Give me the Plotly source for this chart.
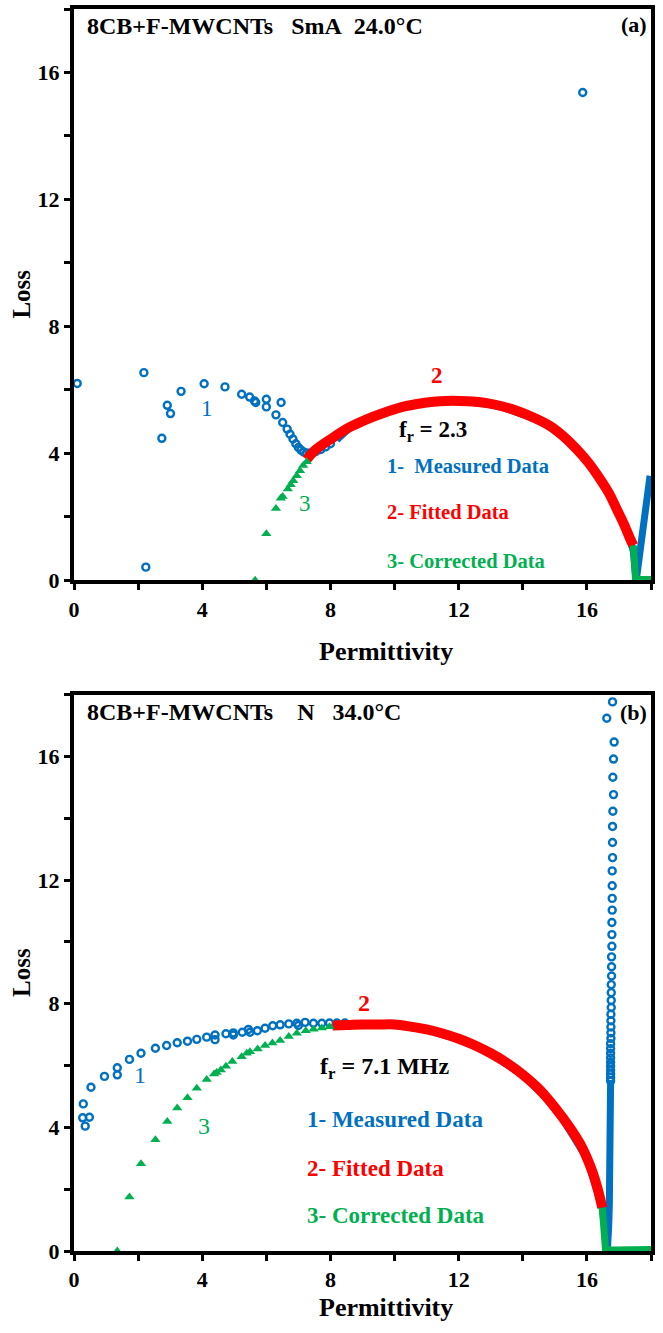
import plotly.graph_objects as go

# ---------------- Panel (a): 8CB+F-MWCNTs SmA 24.0 C ----------------
measA_x = [0.10, 2.18, 2.24, 2.74, 2.91, 3.01, 3.34, 4.06, 4.71, 5.23, 5.48, 5.63, 5.67,
           6.00, 6.00, 6.46, 6.30, 6.51, 6.65, 6.74, 6.83, 6.92, 7.00, 7.08, 7.16, 7.25,
           7.35, 7.45, 7.55, 7.70, 7.85, 8.00, 15.87]
measA_y = [6.20, 6.54, 0.41, 4.47, 5.51, 5.25, 5.95, 6.19, 6.09, 5.86, 5.77, 5.65, 5.60,
           5.70, 5.46, 5.60, 5.21, 4.97, 4.76, 4.60, 4.45, 4.30, 4.18, 4.10, 4.04, 4.01,
           4.00, 4.02, 4.06, 4.12, 4.20, 4.30, 15.37]
measA_dense_x = [8.20, 8.60, 9.13, 9.65, 10.17, 10.70, 11.21, 11.60, 12.04, 12.45, 12.88,
                 13.35, 13.81, 14.35, 14.85, 15.25, 15.68, 16.05, 16.41, 16.70, 16.93,
                 17.15, 17.35, 17.45, 17.52, 17.56, 17.65, 17.75, 17.85, 17.97]
measA_dense_y = [4.42, 4.80, 5.10, 5.31, 5.48, 5.58, 5.63, 5.65, 5.64, 5.61, 5.55, 5.45,
                 5.31, 5.09, 4.83, 4.52, 4.10, 3.67, 3.16, 2.69, 2.21, 1.75, 1.27, 0.90,
                 0.10, 0.15, 0.85, 1.60, 2.40, 3.29]
fitA_x = [7.26, 7.50, 8.09, 8.60, 9.13, 9.65, 10.17, 10.70, 11.21, 11.60, 12.04, 12.45,
          12.88, 13.35, 13.81, 14.35, 14.85, 15.25, 15.68, 16.05, 16.41, 16.70, 16.93,
          17.15, 17.35, 17.45]
fitA_y = [3.80, 4.08, 4.50, 4.82, 5.07, 5.27, 5.44, 5.55, 5.62, 5.65, 5.65, 5.63, 5.58,
          5.48, 5.34, 5.12, 4.86, 4.55, 4.13, 3.70, 3.19, 2.72, 2.24, 1.78, 1.30, 1.09]
corrA_x = [5.65, 6.00, 6.30, 6.45, 6.51, 6.67, 6.76, 6.84, 6.95, 7.05, 7.15, 7.26]
corrA_y = [0.00, 1.46, 2.26, 2.58, 2.64, 2.87, 3.01, 3.13, 3.29, 3.45, 3.61, 3.73]
corrA_tail_x = [17.45, 17.48, 17.50, 17.52, 17.70, 17.85, 18.00]
corrA_tail_y = [1.09, 0.60, 0.20, 0.02, 0.02, 0.03, 0.02]

# ---------------- Panel (b): 8CB+F-MWCNTs N 34.0 C ----------------
measB_x = [0.27, 0.29, 0.35, 0.48, 0.53, 0.95, 1.35, 1.35, 1.73, 2.09, 2.54, 2.89, 3.22,
           3.54, 3.83, 4.14, 4.40, 4.40, 4.74, 4.97, 4.97, 5.25, 5.44, 5.49, 5.72, 5.96,
           6.20, 6.43, 6.70, 6.95, 7.00, 7.21, 7.47, 7.73, 7.97, 8.20, 8.45]
measB_y = [4.31, 4.76, 4.04, 4.33, 5.30, 5.65, 5.93, 5.70, 6.20, 6.40, 6.56, 6.65, 6.74,
           6.79, 6.85, 6.92, 6.99, 6.84, 7.03, 7.06, 6.99, 7.08, 7.17, 7.08, 7.13, 7.21,
           7.29, 7.32, 7.35, 7.37, 7.30, 7.40, 7.37, 7.37, 7.38, 7.38, 7.38]
measB_vert_x = [16.80, 16.62, 16.85, 16.83, 16.81, 16.83, 16.81, 16.80, 16.80, 16.80,
                16.79, 16.79, 16.79, 16.79, 16.78, 16.78, 16.78, 16.77, 16.77, 16.77,
                16.76, 16.76, 16.76, 16.76, 16.75, 16.75, 16.75, 16.75, 16.75, 16.74,
                16.74, 16.74, 16.74, 16.74, 16.74, 16.74, 16.74, 16.74, 16.74]
measB_vert_y = [17.77, 17.24, 16.47, 15.92, 15.33, 14.77, 14.23, 13.74, 13.22, 12.73,
                12.30, 11.82, 11.41, 11.03, 10.63, 10.24, 9.86, 9.52, 9.20, 8.90, 8.62,
                8.36, 8.11, 7.88, 7.66, 7.45, 7.25, 7.06, 6.88, 6.71, 6.55, 6.40, 6.25,
                6.11, 5.98, 5.85, 5.73, 5.61, 5.50]
measB_dense_x = [10.0, 11.0, 12.0, 13.0, 14.0, 15.0, 16.0, 16.48, 16.64, 16.66, 16.68,
                 16.70, 16.71, 16.72, 16.73, 16.74]
measB_dense_y = [7.31, 7.15, 6.85, 6.38, 5.69, 4.67, 3.00, 1.38, 0.05, 0.30, 0.80, 1.50,
                 2.50, 3.50, 4.50, 5.50]
fitB_x = [8.07, 8.50, 9.00, 9.50, 10.00, 10.50, 11.00, 11.50, 12.00, 12.50, 13.00, 13.50,
          14.00, 14.50, 15.00, 15.50, 15.80, 16.00, 16.20, 16.35, 16.48]
fitB_y = [7.30, 7.31, 7.33, 7.33, 7.33, 7.26, 7.17, 7.04, 6.87, 6.66, 6.40, 6.09, 5.71,
          5.25, 4.65, 3.95, 3.45, 3.02, 2.48, 1.96, 1.40]
corrB_x = [1.35, 1.73, 2.09, 2.54, 2.91, 3.22, 3.54, 3.83, 4.14, 4.37, 4.45, 4.58, 4.74,
           4.94, 5.23, 5.39, 5.49, 5.73, 5.96, 6.19, 6.43, 6.70, 6.95, 7.23, 7.47, 7.73, 7.97]
corrB_y = [0.00, 1.75, 2.82, 3.60, 4.19, 4.63, 4.96, 5.27, 5.55, 5.73, 5.78, 5.86, 5.98,
           6.13, 6.29, 6.40, 6.45, 6.54, 6.65, 6.73, 6.81, 6.94, 7.05, 7.13, 7.18, 7.22, 7.26]
corrB_tail_x = [16.48, 16.52, 16.55, 16.58, 16.80, 17.00, 17.20, 17.40, 17.60, 17.80, 18.00]
corrB_tail_y = [1.40, 0.90, 0.45, 0.05, 0.03, 0.04, 0.02, 0.05, 0.03, 0.04, 0.05]

tick_vals = [0, 4, 8, 12, 16]
tick_text = ["0", "4", "8", "12", "16"]

BLUE = "#0070C0"
RED = "#FF0000"
GREEN = "#00B050"
FONT = "Liberation Serif, Times New Roman, serif"

fig = go.Figure()


def add_panel(xa, ya, meas_x, meas_y, dense_x, dense_y, fit_x, fit_y, corr_x, corr_y,
              tail_x, tail_y, extra=None):
    fig.add_trace(go.Scatter(x=dense_x, y=dense_y, mode="lines", xaxis=xa, yaxis=ya,
                             line=dict(color=BLUE, width=7), cliponaxis=False))
    fig.add_trace(go.Scatter(x=meas_x, y=meas_y, mode="markers", xaxis=xa, yaxis=ya,
                             marker=dict(symbol="circle-open", size=7, color=BLUE,
                                         line=dict(width=2.4, color=BLUE)),
                             cliponaxis=False))
    if extra is not None:
        fig.add_trace(go.Scatter(x=extra[0], y=extra[1], mode="markers", xaxis=xa, yaxis=ya,
                                 marker=dict(symbol="circle-open", size=7, color=BLUE,
                                             line=dict(width=2.4, color=BLUE)),
                                 cliponaxis=False))
    fig.add_trace(go.Scatter(x=fit_x, y=fit_y, mode="lines", xaxis=xa, yaxis=ya,
                             line=dict(color=RED, width=10, shape="spline", smoothing=1),
                             cliponaxis=False))
    fig.add_trace(go.Scatter(x=tail_x, y=tail_y, mode="lines", xaxis=xa, yaxis=ya,
                             line=dict(color=GREEN, width=7), cliponaxis=False))
    fig.add_trace(go.Scatter(x=corr_x, y=corr_y, mode="markers", xaxis=xa, yaxis=ya,
                             marker=dict(symbol="triangle-up", size=9, color=GREEN),
                             cliponaxis=False))


add_panel("x", "y", measA_x, measA_y, measA_dense_x, measA_dense_y, fitA_x, fitA_y,
          corrA_x, corrA_y, corrA_tail_x, corrA_tail_y)
add_panel("x2", "y2", measB_x, measB_y, measB_dense_x, measB_dense_y, fitB_x, fitB_y,
          corrB_x, corrB_y, corrB_tail_x, corrB_tail_y, extra=(measB_vert_x, measB_vert_y))

axis_common = dict(range=[0, 18], showline=True, linecolor="black", linewidth=4,
                   mirror=True, ticks="outside", ticklen=6, tickwidth=3, tickcolor="black",
                   tickvals=tick_vals, ticktext=tick_text, showgrid=False, zeroline=False,
                   tickfont=dict(family=FONT, size=22, color="black", weight="bold"),
                   minor=dict(ticks="outside", ticklen=6, tickwidth=3, tickcolor="black",
                              dtick=2, tick0=0, showgrid=False))

top_dom = [(1251 - 578) / 1246, 1.0]
bot_dom = [0.0, (1251 - 693) / 1246]

fig.update_layout(
    width=663, height=1333,
    margin=dict(l=74, r=12, t=5, b=82),
    paper_bgcolor="white", plot_bgcolor="white",
    showlegend=False,
    xaxis=dict(domain=[0, 1], anchor="y", **axis_common),
    yaxis=dict(domain=top_dom, anchor="x", **axis_common),
    xaxis2=dict(domain=[0, 1], anchor="y2", **axis_common),
    yaxis2=dict(domain=bot_dom, anchor="x2", **axis_common),
)


def ann(text, x, y, color, size, xref="x", yref="y", xanchor="left", bold=True, **kw):
    t = "<b>" + text + "</b>" if bold else text
    fig.add_annotation(text=t, x=x, y=y, xref=xref, yref=yref, xanchor=xanchor,
                       yanchor="middle", showarrow=False,
                       font=dict(family=FONT, size=size, color=color), **kw)


NB = "\u00a0"
# Panel (a) texts
ann("8CB+F-MWCNTs" + NB * 3 + "SmA" + NB * 2 + "24.0°C", 0.34, 17.45, "black", 24)
ann("(a)", 17.93, 17.5, "black", 22, xanchor="right")
ann("1", 4.14, 5.42, BLUE, 23, xanchor="center", bold=False)
ann("2", 11.33, 6.45, RED, 23, xanchor="center")
ann("3", 7.21, 2.41, GREEN, 23, xanchor="center", bold=False)
ann("f<sub>r</sub> = 2.3", 10.07, 4.69, "black", 23)
ann("1-" + NB * 2 + "Measured Data", 9.70, 3.60, BLUE, 20.5)
ann("2- Fitted Data", 9.70, 2.14, RED, 20.5)
ann("3- Corrected Data", 9.70, 0.60, GREEN, 20.5)

# Panel (b) texts
ann("8CB+F-MWCNTs" + NB * 4 + "N" + NB * 3 + "34.0°C", 0.34, 17.44, "black", 24,
    xref="x2", yref="y2")
ann("(b)", 17.93, 17.44, "black", 22, xref="x2", yref="y2", xanchor="right")
ann("1", 2.06, 5.68, BLUE, 24, xref="x2", yref="y2", xanchor="center", bold=False)
ann("2", 9.05, 8.04, RED, 24, xref="x2", yref="y2", xanchor="center")
ann("3", 4.06, 4.06, GREEN, 24, xref="x2", yref="y2", xanchor="center", bold=False)
ann("f<sub>r</sub> = 7.1 MHz", 7.61, 5.93, "black", 24, xref="x2", yref="y2")
ann("1- Measured Data", 7.21, 4.25, BLUE, 23, xref="x2", yref="y2")
ann("2- Fitted Data", 7.21, 2.67, RED, 23, xref="x2", yref="y2")
ann("3- Corrected Data", 7.21, 1.15, GREEN, 23, xref="x2", yref="y2")

# Axis titles
ann("Permittivity", 0.54, (1251 - 650) / 1246, "black", 26, xref="paper", yref="paper",
    xanchor="center")
ann("Permittivity", 0.54, (1251 - 1308) / 1246, "black", 26, xref="paper", yref="paper",
    xanchor="center")
ann("Loss", (22 - 74) / 577, (1251 - 291.5) / 1246, "black", 25, xref="paper",
    yref="paper", xanchor="center", textangle=-90)
ann("Loss", (22 - 74) / 577, (1251 - 972) / 1246, "black", 25, xref="paper",
    yref="paper", xanchor="center", textangle=-90)

fig.write_html("out.html")
